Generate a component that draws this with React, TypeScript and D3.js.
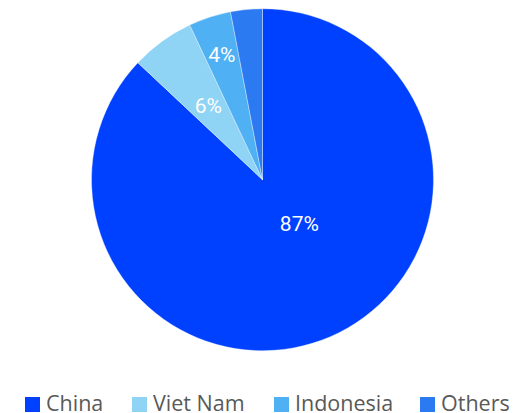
import React from "react";
import * as d3 from "d3";

const categories = ["China", "Viet Nam", "Indonesia", "Others"];
const values = [87, 6, 4, 3];
const labels = ["87%", "6%", "4%", ""];
const colors = ["#0041ff", "#8fd3f5", "#4fb1f4", "#2b7af2"];

// label placement (style): radius fraction and angle shift (radians) relative to slice middle
const labelRadiusFrac = [0.335, 0.54, 0.77, 0.8];
const labelAngleShift = [-0.29, 0, 0, 0];

const legendX = [25, 132, 274, 420];

export default function App() {
  const W = 514, H = 413;
  const cx = 262.5, cy = 179.7, R = 171;
  const pie = d3.pie<number>().sort(null).startAngle(0).endAngle(2 * Math.PI);
  const arcs = pie(values);
  const arcGen = d3.arc<d3.PieArcDatum<number>>().innerRadius(0).outerRadius(R);

  return (
    <svg width={W} height={H} style={{ position: "absolute", left: 0, top: 0 }}>
      <g transform={`translate(${cx},${cy})`}>
        {arcs.map((a, i) => (
          <path key={i} d={arcGen(a) || ""} fill={colors[i]} stroke="rgba(255,255,255,0.45)" strokeWidth={0.8} />
        ))}
        {arcs.map((a, i) => {
          if (!labels[i]) return null;
          const ang = (a.startAngle + a.endAngle) / 2 + labelAngleShift[i];
          const r = R * labelRadiusFrac[i];
          const x = r * Math.sin(ang);
          const y = -r * Math.cos(ang);
          return (
            <text key={i} x={x} y={y} dy="0.36em" textAnchor="middle" fill="#fff"
              fontFamily="Roboto, sans-serif" fontSize={21}>
              {labels[i]}
            </text>
          );
        })}
      </g>
      <g>
        {categories.map((c, i) => (
          <g key={c}>
            <rect x={legendX[i]} y={397} width={15} height={15} fill={colors[i]} />
            <text x={legendX[i] + 21} y={411} fill="#595959" fontFamily="'Open Sans', sans-serif" fontSize={21.5}>
              {c}
            </text>
          </g>
        ))}
      </g>
    </svg>
  );
}
